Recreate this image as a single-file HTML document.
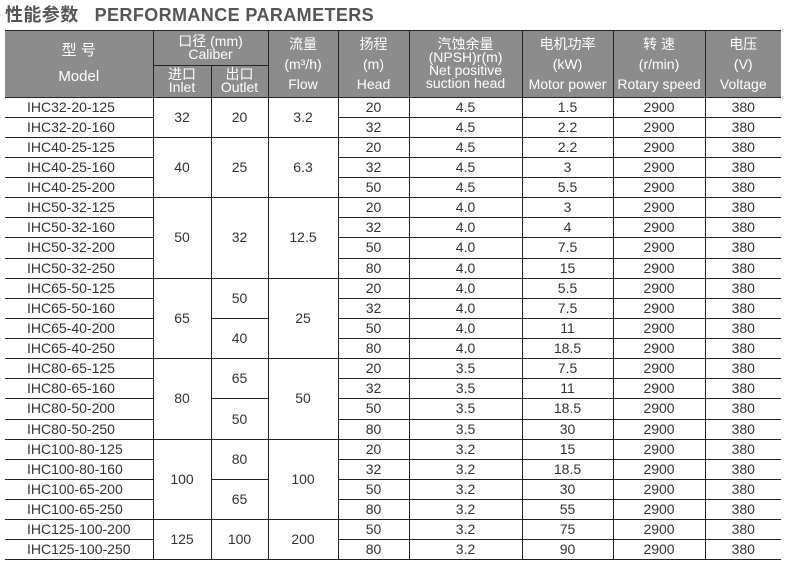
<!DOCTYPE html>
<html><head><meta charset="utf-8"><style>
body{margin:0;background:#fff;width:791px;height:568px;overflow:hidden;position:relative;font-family:"Liberation Sans","Noto Sans CJK SC",sans-serif;}
.title{position:absolute;left:5px;top:1px;font-size:18px;font-weight:bold;color:#555;white-space:nowrap;letter-spacing:0.4px;}
.title span{margin-left:16px;}
table{position:absolute;left:5px;top:29.5px;border-collapse:collapse;table-layout:fixed;width:776px;}
td,th{border:1px solid #222;padding:0;text-align:center;font-size:14px;color:#333;font-weight:normal;overflow:hidden;white-space:nowrap;}
th{background:#8c8c8c;color:#fff;line-height:13px;font-size:14px;}
tr.d td{height:19.13px;line-height:19px;}
td.m{text-align:left;padding-left:22px;}
tr td:first-child,tr th:first-child{border-left:none;}
tr td:last-child,tr th:last-child{border-right:none;}
</style></head><body>
<div class="title">性能参数<span>PERFORMANCE PARAMETERS</span></div>
<table>
<colgroup><col style="width:148px"><col style="width:58px"><col style="width:57px"><col style="width:70px"><col style="width:71px"><col style="width:113px"><col style="width:91px"><col style="width:92px"><col style="width:76px"></colgroup>
<tr style="height:35px"><th rowspan="2" style="font-size:15px">型 号<br><br>Model</th><th colspan="2">口径 (mm)<br>Caliber</th><th rowspan="2" style="line-height:20px">流量<br>(m³/h)<br>Flow</th><th rowspan="2" style="line-height:20px">扬程<br>(m)<br>Head</th><th rowspan="2">汽蚀余量<br>(NPSH)r(m)<br>Net positive<br>suction head</th><th rowspan="2" style="line-height:20px">电机功率<br>(kW)<br>Motor power</th><th rowspan="2" style="line-height:20px">转 速<br>(r/min)<br>Rotary speed</th><th rowspan="2" style="line-height:20px">电压<br>(V)<br>Voltage</th></tr>
<tr style="height:32px"><th>进口<br>Inlet</th><th>出口<br>Outlet</th></tr>
<tr class="d"><td class="m">IHC32-20-125</td><td rowspan="2">32</td><td rowspan="2">20</td><td rowspan="2">3.2</td><td>20</td><td>4.5</td><td>1.5</td><td>2900</td><td>380</td></tr>
<tr class="d"><td class="m">IHC32-20-160</td><td>32</td><td>4.5</td><td>2.2</td><td>2900</td><td>380</td></tr>
<tr class="d"><td class="m">IHC40-25-125</td><td rowspan="3">40</td><td rowspan="3">25</td><td rowspan="3">6.3</td><td>20</td><td>4.5</td><td>2.2</td><td>2900</td><td>380</td></tr>
<tr class="d"><td class="m">IHC40-25-160</td><td>32</td><td>4.5</td><td>3</td><td>2900</td><td>380</td></tr>
<tr class="d"><td class="m">IHC40-25-200</td><td>50</td><td>4.5</td><td>5.5</td><td>2900</td><td>380</td></tr>
<tr class="d"><td class="m">IHC50-32-125</td><td rowspan="4">50</td><td rowspan="4">32</td><td rowspan="4">12.5</td><td>20</td><td>4.0</td><td>3</td><td>2900</td><td>380</td></tr>
<tr class="d"><td class="m">IHC50-32-160</td><td>32</td><td>4.0</td><td>4</td><td>2900</td><td>380</td></tr>
<tr class="d"><td class="m">IHC50-32-200</td><td>50</td><td>4.0</td><td>7.5</td><td>2900</td><td>380</td></tr>
<tr class="d"><td class="m">IHC50-32-250</td><td>80</td><td>4.0</td><td>15</td><td>2900</td><td>380</td></tr>
<tr class="d"><td class="m">IHC65-50-125</td><td rowspan="4">65</td><td rowspan="2">50</td><td rowspan="4">25</td><td>20</td><td>4.0</td><td>5.5</td><td>2900</td><td>380</td></tr>
<tr class="d"><td class="m">IHC65-50-160</td><td>32</td><td>4.0</td><td>7.5</td><td>2900</td><td>380</td></tr>
<tr class="d"><td class="m">IHC65-40-200</td><td rowspan="2">40</td><td>50</td><td>4.0</td><td>11</td><td>2900</td><td>380</td></tr>
<tr class="d"><td class="m">IHC65-40-250</td><td>80</td><td>4.0</td><td>18.5</td><td>2900</td><td>380</td></tr>
<tr class="d"><td class="m">IHC80-65-125</td><td rowspan="4">80</td><td rowspan="2">65</td><td rowspan="4">50</td><td>20</td><td>3.5</td><td>7.5</td><td>2900</td><td>380</td></tr>
<tr class="d"><td class="m">IHC80-65-160</td><td>32</td><td>3.5</td><td>11</td><td>2900</td><td>380</td></tr>
<tr class="d"><td class="m">IHC80-50-200</td><td rowspan="2">50</td><td>50</td><td>3.5</td><td>18.5</td><td>2900</td><td>380</td></tr>
<tr class="d"><td class="m">IHC80-50-250</td><td>80</td><td>3.5</td><td>30</td><td>2900</td><td>380</td></tr>
<tr class="d"><td class="m">IHC100-80-125</td><td rowspan="4">100</td><td rowspan="2">80</td><td rowspan="4">100</td><td>20</td><td>3.2</td><td>15</td><td>2900</td><td>380</td></tr>
<tr class="d"><td class="m">IHC100-80-160</td><td>32</td><td>3.2</td><td>18.5</td><td>2900</td><td>380</td></tr>
<tr class="d"><td class="m">IHC100-65-200</td><td rowspan="2">65</td><td>50</td><td>3.2</td><td>30</td><td>2900</td><td>380</td></tr>
<tr class="d"><td class="m">IHC100-65-250</td><td>80</td><td>3.2</td><td>55</td><td>2900</td><td>380</td></tr>
<tr class="d"><td class="m">IHC125-100-200</td><td rowspan="2">125</td><td rowspan="2">100</td><td rowspan="2">200</td><td>50</td><td>3.2</td><td>75</td><td>2900</td><td>380</td></tr>
<tr class="d"><td class="m">IHC125-100-250</td><td>80</td><td>3.2</td><td>90</td><td>2900</td><td>380</td></tr>
</table>
</body></html>
